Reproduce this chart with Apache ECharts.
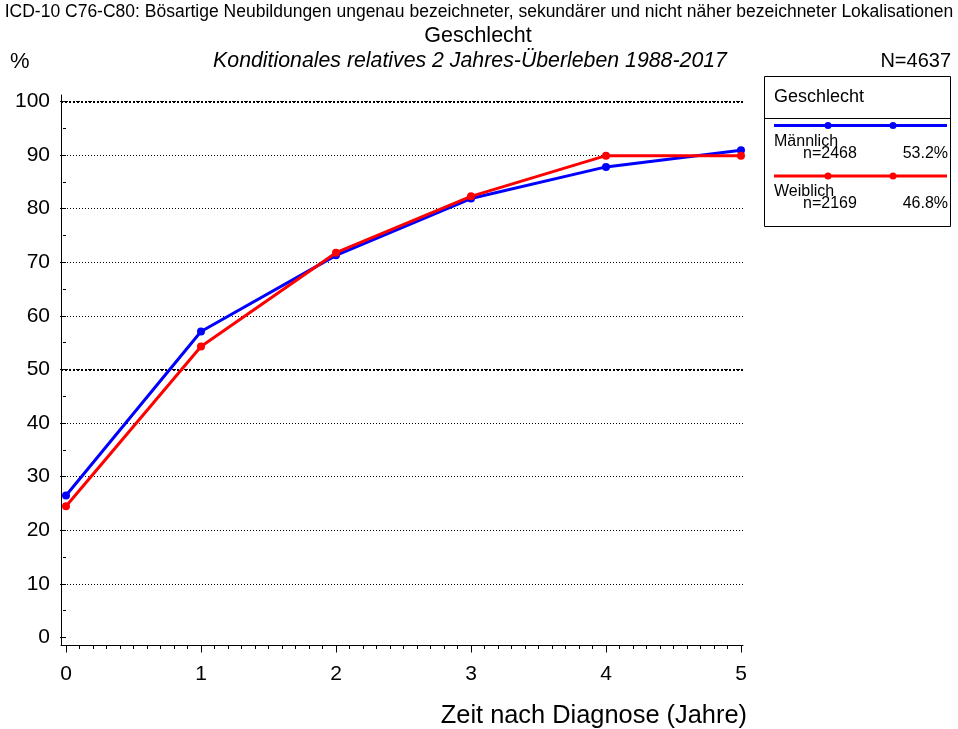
<!DOCTYPE html>
<html><head><meta charset="utf-8">
<script src="https://cdn.jsdelivr.net/npm/echarts@6/dist/echarts.min.js"></script>
<style>html,body{margin:0;padding:0;background:#fff}#c{width:958px;height:729px}</style>
</head><body><div id="c"></div>
<script>
// ---- data ----
const years = [0, 1, 2, 3, 4, 5];
const maennlich = [26.5, 57.1, 71.3, 81.9, 87.8, 90.9];
const weiblich = [24.5, 54.3, 71.8, 82.3, 89.9, 89.9];
const seriesNames = ['Männlich', 'Weiblich'];
const seriesCounts = ['n=2468', 'n=2169'];
const seriesShares = ['53.2%', '46.8%'];
const seriesColors = ['#0000ff', '#ff0000'];
const boldGridValues = [50, 100];
const titleLine1 = 'ICD-10 C76-C80: Bösartige Neubildungen ungenau bezeichneter, sekundärer und nicht näher bezeichneter Lokalisationen';
const titleLine2 = 'Geschlecht';
const subtitle = 'Konditionales relatives 2 Jahres-Überleben 1988-2017';
const totalN = 'N=4637';
const yUnit = '%';
const xName = 'Zeit nach Diagnose (Jahre)';
const legendTitle = 'Geschlecht';

const FONT = "'Liberation Sans', Arial, sans-serif";
const chart = echarts.init(document.getElementById('c'), null, {renderer: 'canvas'});

function txt(x, y, text, size, align, extra) {
  return {type: 'text', silent: true, style: Object.assign({
    x: x, y: y, text: text, fontSize: size, fontFamily: FONT, fill: '#000',
    align: align, textAlign: align, verticalAlign: 'middle', textVerticalAlign: 'middle'
  }, extra || {})};
}

const graphics = [
  txt(479, 12, titleLine1, 17.5, 'center'),
  txt(478, 36, titleLine2, 21.5, 'center'),
  txt(10, 62, yUnit, 22, 'left'),
  txt(470, 61, subtitle, 21.3, 'center', {fontStyle: 'italic'}),
  txt(951, 61, totalN, 20, 'right'),
  txt(747, 716, xName, 25.4, 'right'),
  {type: 'rect', silent: true, shape: {x: 764.5, y: 76.5, width: 186, height: 150},
   style: {fill: 'none', stroke: '#000', lineWidth: 1}},
  {type: 'line', silent: true, shape: {x1: 764, y1: 118.5, x2: 951, y2: 118.5},
   style: {stroke: '#000', lineWidth: 1}},
  txt(774, 97, legendTitle, 18, 'left')
];
seriesNames.forEach(function (name, i) {
  const ly = 125.5 + i * 50.5;
  graphics.push({type: 'line', silent: true, shape: {x1: 774, y1: ly, x2: 947, y2: ly},
    style: {stroke: seriesColors[i], lineWidth: 3}});
  [828, 893].forEach(function (cx) {
    graphics.push({type: 'circle', silent: true, shape: {cx: cx, cy: ly, r: 3.5},
      style: {fill: seriesColors[i]}});
  });
  graphics.push(txt(774, ly + 16, name, 16, 'left'));
  graphics.push(txt(803, ly + 28, seriesCounts[i], 16, 'left'));
  graphics.push(txt(948, ly + 28, seriesShares[i], 16, 'right'));
});

const black = {color: '#000', width: 1};
const option = {
  animation: false,
  backgroundColor: '#fff',
  textStyle: {fontFamily: FONT},
  grid: [
    {left: 61, top: 101.5, width: 682, height: 536, outerBoundsMode: 'none'},
    {left: 66, top: 101.5, width: 675, height: 544, outerBoundsMode: 'none'},
    {left: 61, top: 95, width: 682, height: 550, outerBoundsMode: 'none'}
  ],
  xAxis: [
    {gridIndex: 0, type: 'value', min: -5 / 135, max: 5 + 2 / 135, show: false},
    {gridIndex: 1, type: 'value', min: 0, max: 5, interval: 1,
     axisLine: {show: false, onZero: false},
     axisTick: {show: true, inside: false, length: 7, lineStyle: black},
     minorTick: {show: true, splitNumber: 10, length: 3.5, lineStyle: black},
     axisLabel: {fontSize: 21, color: '#000', margin: 18, fontFamily: FONT},
     splitLine: {show: false}},
    {gridIndex: 2, type: 'value', min: 0, max: 1,
     axisLine: {show: true, onZero: false, lineStyle: black},
     axisTick: {show: false}, axisLabel: {show: false}, splitLine: {show: false}}
  ],
  yAxis: [
    {gridIndex: 0, type: 'value', min: 0, max: 100, interval: 10,
     axisLine: {show: false},
     axisTick: {show: true, length: 6, lineStyle: black},
     minorTick: {show: true, splitNumber: 2, length: 3, lineStyle: black},
     axisLabel: {fontSize: 21, color: '#000', margin: 11, fontFamily: FONT},
     splitLine: {show: true, showMinLine: false, lineStyle: {color: '#000', width: 1, type: [1, 2]}}},
    {gridIndex: 1, type: 'value', min: 0, max: 100, show: false},
    {gridIndex: 2, type: 'value', min: 0, max: 1,
     axisLine: {show: true, onZero: false, lineStyle: black},
     axisTick: {show: false}, axisLabel: {show: false}, splitLine: {show: false}}
  ],
  graphic: {elements: graphics},
  series: [maennlich, weiblich].map(function (vals, i) {
    const s = {
      name: seriesNames[i], type: 'line', xAxisIndex: 0, yAxisIndex: 0,
      data: years.map(function (x, j) { return [x, vals[j]]; }),
      symbol: 'circle', symbolSize: 8, showSymbol: true,
      lineStyle: {color: seriesColors[i], width: 3},
      itemStyle: {color: seriesColors[i]},
      z: 3 + i
    };
    if (i === 0) {
      s.markLine = {silent: true, symbol: ['none', 'none'], label: {show: false},
        lineStyle: {color: '#000', width: 2, type: [2, 2]},
        data: boldGridValues.map(function (v) { return {yAxis: v}; }), z: 1};
    }
    return s;
  })
};
chart.setOption(option);
</script>
</body></html>
